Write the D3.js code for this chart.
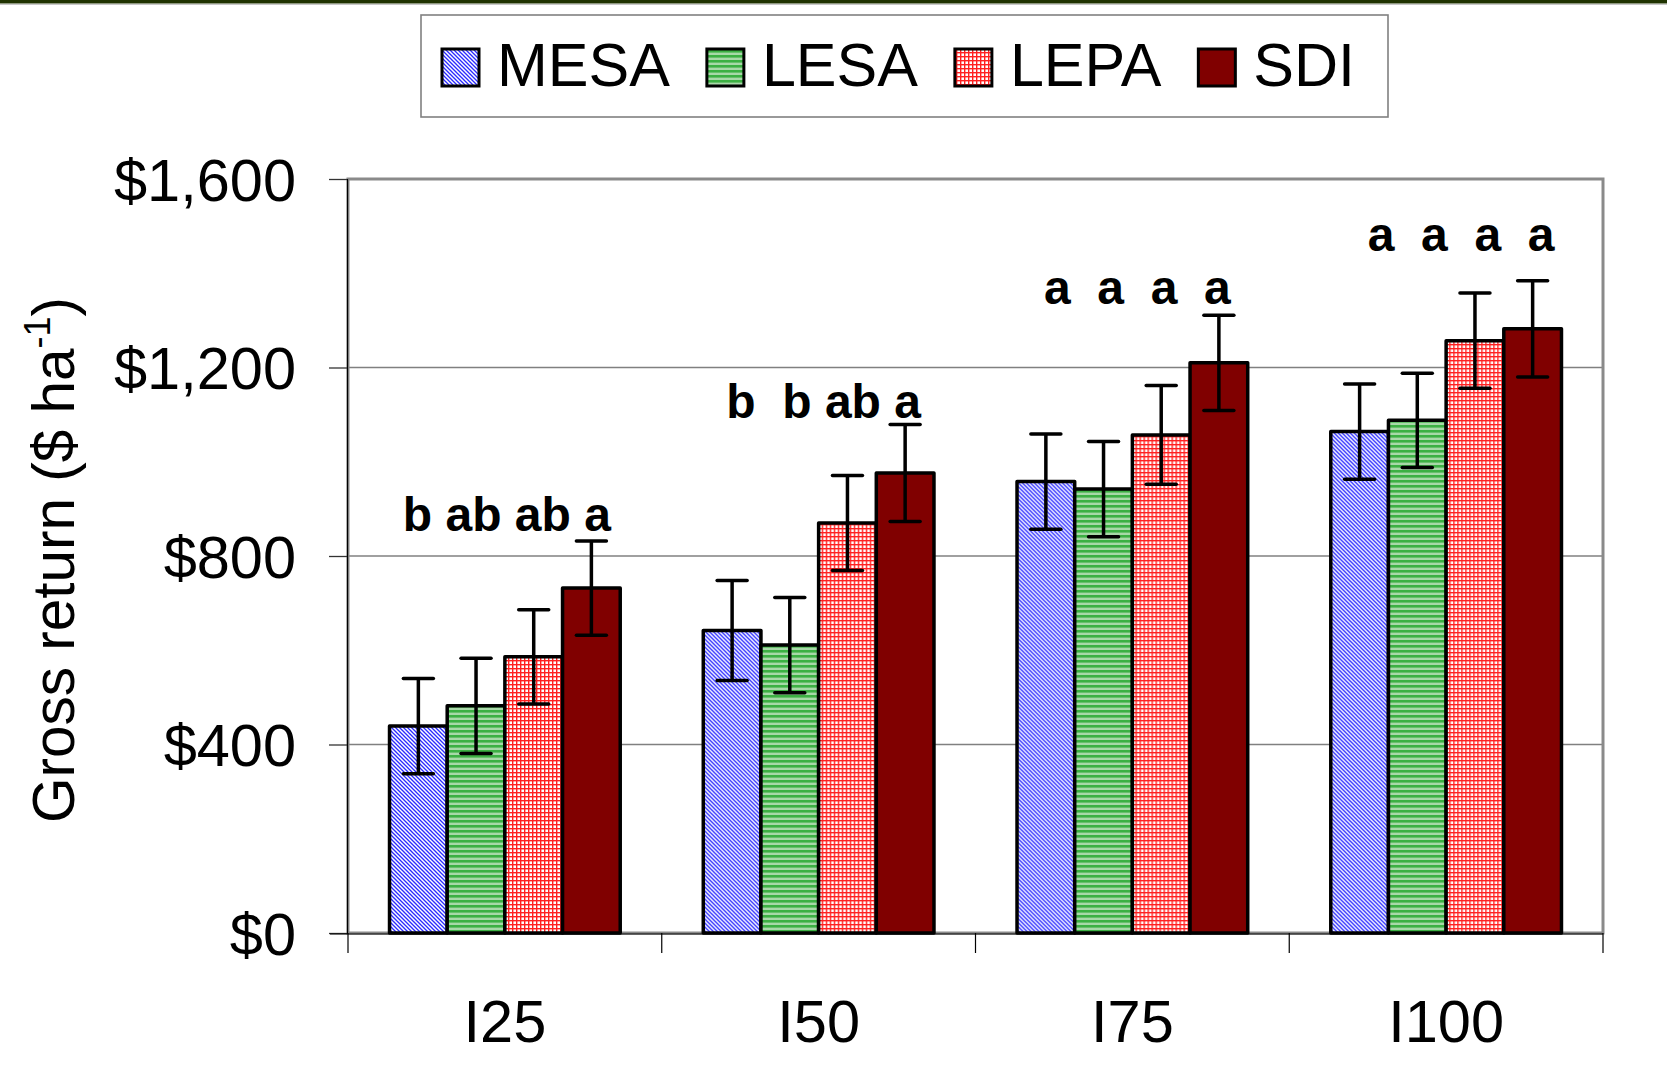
<!DOCTYPE html>
<html>
<head>
<meta charset="utf-8">
<script src="https://cdn.jsdelivr.net/npm/d3@7"></script>
<style>
  body { margin: 0; background: #fff; }
  text { font-family: "Liberation Sans", Arial, sans-serif; }
</style>
</head>
<body>
<div id="vis"></div>
<script>
// chart data
const categories = ["I25", "I50", "I75", "I100"];
const series = ["MESA", "LESA", "LEPA", "SDI"];

const mesa = [439, 642, 958, 1064];
const lesa = [482, 611, 942, 1088];
const lepa = [586, 870, 1057, 1257];
const sdi  = [732, 976, 1210, 1282];

// half width of the error bars
const mesaErr = [101, 106, 101, 101];
const lesaErr = [101, 101, 101, 100];
const lepaErr = [100, 101, 105, 101];
const sdiErr  = [100, 103, 101, 102];

// significance letters (one string per group) and the level they sit at
const letters = ["b ab ab a", "b  b ab a", "a  a  a  a", "a  a  a  a"];
const letterLevel = [852, 1093, 1334, 1447];

const yTicks = [0, 400, 800, 1200, 1600];

const values = [mesa, lesa, lepa, sdi];
const errors = [mesaErr, lesaErr, lepaErr, sdiErr];

const W = 1667, H = 1071;
const plotL = 348, plotR = 1603, plotT = 179, plotB = 933;
// small horizontal nudge of the letter strings from the group centre
const letterShift = [2, 5, 5, 15];

const svg = d3.select("#vis").append("svg")
  .attr("width", W).attr("height", H);

// fill patterns
const defs = svg.append("defs");

let p = defs.append("pattern").attr("id", "pat-mesa")
  .attr("patternUnits", "userSpaceOnUse").attr("width", 4).attr("height", 4);
p.append("rect").attr("width", 4).attr("height", 4).attr("fill", "#ffffff");
p.append("path").attr("d", "M-1,-1 L5,5 M-1,3 L1,5 M3,-1 L5,1")
  .attr("stroke", "#2a2aff").attr("stroke-width", 1.35);

p = defs.append("pattern").attr("id", "pat-lesa")
  .attr("patternUnits", "userSpaceOnUse").attr("width", 5).attr("height", 5);
p.append("rect").attr("width", 5).attr("height", 5).attr("fill", "#a8d8a8");
p.append("rect").attr("y", 0).attr("width", 5).attr("height", 2.6).attr("fill", "#3cb043");

p = defs.append("pattern").attr("id", "pat-lepa")
  .attr("patternUnits", "userSpaceOnUse").attr("width", 4).attr("height", 4);
p.append("rect").attr("width", 4).attr("height", 4).attr("fill", "#ffffff");
p.append("rect").attr("width", 4).attr("height", 1.4).attr("fill", "#ff2020");
p.append("rect").attr("width", 1.4).attr("height", 4).attr("fill", "#ff2020");

const fills = ["url(#pat-mesa)", "url(#pat-lesa)", "url(#pat-lepa)", "#800000"];

// top strip (title cut off)
svg.append("rect").attr("x", 0).attr("y", 0).attr("width", W).attr("height", 3.5).attr("fill", "#1f3300");
svg.append("line").attr("x1", 0).attr("x2", W).attr("y1", 4.5).attr("y2", 4.5)
  .attr("stroke", "#c8c8c8").attr("stroke-width", 1);

// scales
const x0 = d3.scaleBand().domain(categories).range([plotL, plotR]).padding(0);
const x1 = d3.scaleBand().domain(series).range([0, x0.bandwidth()])
  .paddingInner(0).paddingOuter(0.72);
const y = d3.scaleLinear().domain([0, 1600]).range([plotB, plotT]);

// gridlines
svg.append("g").selectAll("line")
  .data(yTicks.filter(d => d > 0 && d < 1600))
  .join("line")
  .attr("x1", plotL).attr("x2", plotR)
  .attr("y1", d => y(d)).attr("y2", d => y(d))
  .attr("stroke", "#808080").attr("stroke-width", 1.3);

// plot border
svg.append("rect")
  .attr("x", plotL).attr("y", plotT)
  .attr("width", plotR - plotL).attr("height", plotB - plotT)
  .attr("fill", "none").attr("stroke", "#8a8a8a").attr("stroke-width", 3);

// y axis
const yAxis = svg.append("g")
  .attr("transform", `translate(${plotL - 1},0)`)
  .call(d3.axisLeft(y).tickValues(yTicks).tickSize(18).tickPadding(33)
    .tickFormat(d3.format("$,")));
yAxis.select(".domain").attr("stroke", "#000").attr("stroke-width", 1.2);
yAxis.selectAll(".tick line").attr("stroke", "#333").attr("stroke-width", 1.3);
yAxis.selectAll(".tick text")
  .attr("font-size", 59.5).attr("fill", "#000").attr("dy", "0.36em")
  .style("font-family", "'Liberation Sans', Arial, sans-serif");

// x axis: ticks at the category boundaries
const xAxisG = svg.append("g");
xAxisG.append("line")
  .attr("x1", plotL - 18).attr("x2", plotR)
  .attr("y1", plotB + 1).attr("y2", plotB + 1)
  .attr("stroke", "#000").attr("stroke-width", 1.2);
const bounds = categories.map(c => x0(c)).concat([x0(categories[categories.length - 1]) + x0.bandwidth()]);
xAxisG.selectAll("line.xt")
  .data(bounds)
  .join("line").attr("class", "xt")
  .attr("x1", d => d).attr("x2", d => d)
  .attr("y1", plotB).attr("y2", plotB + 20)
  .attr("stroke", "#000").attr("stroke-width", 1.2);
xAxisG.selectAll("text")
  .data(categories)
  .join("text")
  .attr("x", d => x0(d) + x0.bandwidth() / 2)
  .attr("y", 1042)
  .attr("text-anchor", "middle")
  .attr("font-size", 59.5)
  .text(d => d);

// bars
const groups = svg.append("g").selectAll("g")
  .data(categories)
  .join("g")
  .attr("transform", d => `translate(${x0(d)},0)`);

groups.each(function(cat, ci) {
  const g = d3.select(this);
  series.forEach((s, si) => {
    const v = values[si][ci];
    const e = errors[si][ci];
    const cx = x1(s) + x1.bandwidth() / 2;
    g.append("rect")
      .attr("x", x1(s)).attr("y", y(v))
      .attr("width", x1.bandwidth()).attr("height", y(0) - y(v))
      .attr("fill", fills[si])
      .attr("stroke", "#000").attr("stroke-width", 3.5)
      .attr("stroke-linejoin", "round");
    // error bar
    g.append("line")
      .attr("x1", cx).attr("x2", cx)
      .attr("y1", y(v + e)).attr("y2", y(v - e))
      .attr("stroke", "#000").attr("stroke-width", 3.5);
    [v + e, v - e].forEach(t => {
      g.append("line")
        .attr("x1", cx - 15).attr("x2", cx + 15)
        .attr("y1", y(t)).attr("y2", y(t))
        .attr("stroke", "#000").attr("stroke-width", 3.5)
        .attr("stroke-linecap", "round");
    });
  });
  // letters
  g.append("text")
    .attr("x", x0.bandwidth() / 2 + letterShift[ci]).attr("y", y(letterLevel[ci]))
    .attr("text-anchor", "middle")
    .attr("font-size", 48).attr("font-weight", "bold")
    .style("white-space", "pre")
    .text(letters[ci]);
});

// y axis title
const yt = svg.append("text")
  .attr("transform", "translate(74,560) rotate(-90)")
  .attr("text-anchor", "middle")
  .attr("font-size", 58.5);
yt.append("tspan").text("Gross return ($ ha");
yt.append("tspan").attr("font-size", 36).attr("dy", -24).text("-1");
yt.append("tspan").attr("dy", 24).text(")");

// legend
svg.append("rect")
  .attr("x", 421).attr("y", 15).attr("width", 967).attr("height", 102)
  .attr("fill", "#fff").attr("stroke", "#808080").attr("stroke-width", 1.6);

let lx = 442;
series.forEach((s, si) => {
  svg.append("rect")
    .attr("x", lx).attr("y", 49).attr("width", 37).attr("height", 37)
    .attr("fill", fills[si]).attr("stroke", "#000").attr("stroke-width", 3);
  const t = svg.append("text")
    .attr("x", lx + 55).attr("y", 86)
    .attr("font-size", 61)
    .text(s);
  lx += 55 + t.node().getComputedTextLength() + 37;
});
</script>
</body>
</html>
